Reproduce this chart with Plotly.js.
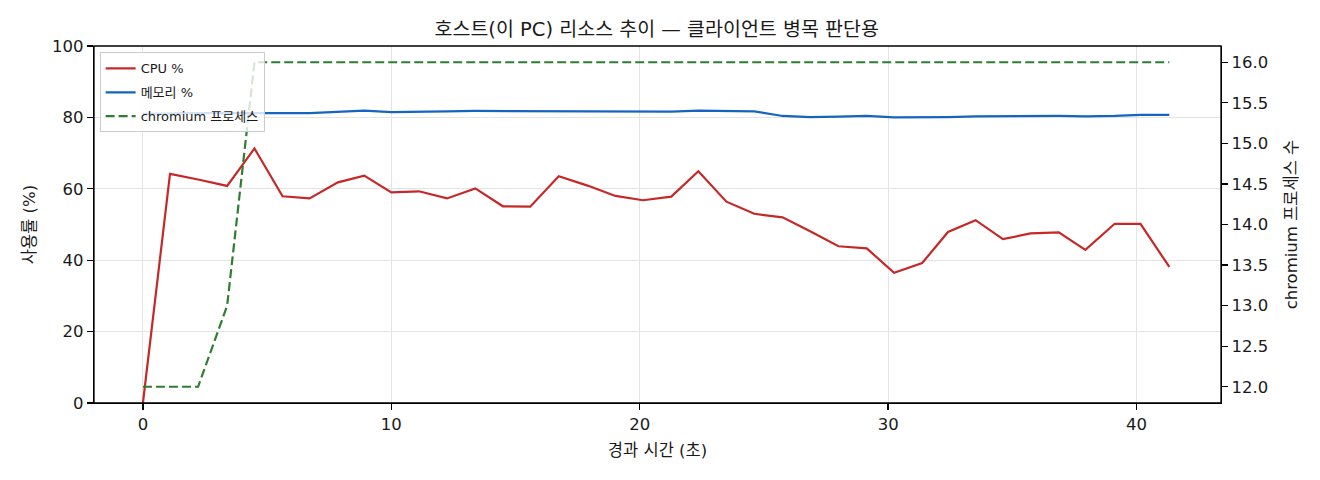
<!DOCTYPE html>
<html>
<head>
<meta charset="utf-8">
<script src="https://cdn.plot.ly/plotly-3.0.1.min.js"></script>
<style>
  html, body { margin: 0; padding: 0; background: #fff; }
  #chart { width: 1320px; height: 480px; }
</style>
</head>
<body>
<div id="chart"></div>
<script>
// host resource samples
const elapsedSec = [
  0.0, 1.09, 2.22, 3.39, 4.49, 5.62, 6.71, 7.85, 8.91, 10.0,
  11.11, 12.24, 13.38, 14.49, 15.59, 16.74, 17.9, 19.02, 20.13, 21.27,
  22.36, 23.49, 24.61, 25.75, 26.86, 28.0, 29.14, 30.24, 31.37, 32.41,
  33.52, 34.62, 35.73, 36.87, 37.94, 39.12, 40.16, 41.32,
];
const cpuPct = [
  0.0, 64.2, 62.6, 60.8, 71.3, 57.9, 57.3, 61.8, 63.7, 59.0,
  59.3, 57.3, 60.1, 55.1, 55.0, 63.5, 60.9, 58.0, 56.8, 57.8,
  64.9, 56.4, 53.0, 52.0, 48.1, 43.9, 43.3, 36.5, 39.2, 47.9,
  51.2, 45.9, 47.5, 47.8, 42.9, 50.2, 50.2, 38.1,
];
const memPct = [
  81.0, 81.2, 81.2, 81.2, 81.3, 81.2, 81.2, 81.5, 81.9, 81.5,
  81.7, 81.7, 81.8, 81.8, 81.8, 81.8, 81.8, 81.6, 81.7, 81.6,
  81.9, 81.7, 81.7, 80.4, 80.1, 80.2, 80.4, 80.0, 80.0, 80.1,
  80.3, 80.4, 80.5, 80.4, 80.3, 80.4, 80.7, 80.7,
];
const chromiumProcs = [
  12, 12, 12, 13, 16, 16, 16, 16, 16, 16,
  16, 16, 16, 16, 16, 16, 16, 16, 16, 16,
  16, 16, 16, 16, 16, 16, 16, 16, 16, 16,
  16, 16, 16, 16, 16, 16, 16, 16,
];
const leftTicks = [0, 20, 40, 60, 80, 100];
const rightTicks = [12, 12.5, 13, 13.5, 14, 14.5, 15, 15.5, 16];
const timeTicks = [0, 10, 20, 30, 40];

const FONT = '"DejaVu Sans", "Noto Sans CJK KR", sans-serif';
const INK = "#1a1a1a";
const GRID = "#e4e4e4";

const traces = [
  {
    x: elapsedSec, y: cpuPct, type: "scatter", mode: "lines",
    name: "CPU %", legendgroup: "a", line: { color: "#c62828", width: 2.2 },
  },
  {
    x: elapsedSec, y: memPct, type: "scatter", mode: "lines",
    name: "메모리 %", legendgroup: "b", line: { color: "#1565c0", width: 2.2 },
  },
  {
    x: elapsedSec, y: chromiumProcs, type: "scatter", mode: "lines",
    name: "chromium 프로세스", legendgroup: "c", yaxis: "y2",
    line: { color: "#2e7d32", width: 2.2, dash: "9px,4px" },
  },
];

const axisLine = { showline: true, linecolor: "#000", linewidth: 1.3, ticks: "outside", ticklen: 6, tickcolor: "#000", tickwidth: 1.3 };

const layout = {
  width: 1320, height: 480,
  margin: { l: 93.5, r: 99, t: 45.5, b: 77, pad: 0 },
  paper_bgcolor: "#fff", plot_bgcolor: "#fff",
  font: { family: FONT, size: 16.5, color: INK },
  title: {
    text: "호스트(이 PC) 리소스 추이 — 클라이언트 병목 판단용",
    font: { size: 19.5, color: INK },
    x: 0.4975, xanchor: "center", yref: "container", y: 0.94, yanchor: "middle",
  },
  showlegend: true,
  legend: {
    x: 0.005, y: 0.982, xanchor: "left", yanchor: "top", traceorder: "grouped",
    bgcolor: "rgba(255,255,255,0.8)", bordercolor: "#cccccc", borderwidth: 1,
    font: { size: 13, color: INK }, tracegroupgap: 4, itemwidth: 30,
  },
  xaxis: Object.assign({
    range: [-1.97, 43.4], tickvals: timeTicks,
    showgrid: true, gridcolor: GRID, gridwidth: 1, zeroline: false,
    title: { text: "경과 시간 (초)", font: { size: 16.5 }, standoff: 11 },
  }, axisLine),
  yaxis: Object.assign({
    range: [0, 100], tickvals: leftTicks,
    showgrid: true, gridcolor: GRID, gridwidth: 1, zeroline: false,
    title: { text: "사용률 (%)", font: { size: 16.5 }, standoff: 12 },
  }, axisLine),
  yaxis2: Object.assign({
    overlaying: "y", side: "right", range: [11.8, 16.2],
    tickvals: rightTicks, tickformat: ".1f",
    showgrid: false, zeroline: false,
    title: { text: "chromium 프로세스 수", font: { size: 16.5 }, standoff: 18 },
  }, axisLine),
  shapes: [
    // axes frame (matplotlib-style spines on all four sides)
    { type: "rect", xref: "paper", yref: "paper", x0: 0, x1: 1, y0: 0, y1: 1,
      line: { color: "#000", width: 1.3 }, layer: "above" },
  ],
};

Plotly.newPlot("chart", traces, layout, { displayModeBar: false, staticPlot: true });
</script>
</body>
</html>
